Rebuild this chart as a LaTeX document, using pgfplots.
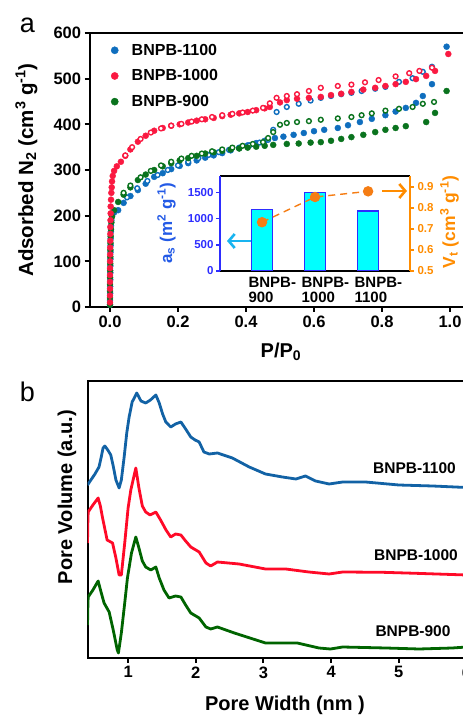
\documentclass[border=0pt]{standalone}
\usepackage{fontspec}
\setmainfont{Liberation Sans}
\usepackage{pgfplots}
\pgfplotsset{compat=1.18}
\usetikzlibrary{arrows.meta}
\definecolor{cblue}{RGB}{15,110,190}
\definecolor{cred}{RGB}{250,25,65}
\definecolor{cgreen}{RGB}{10,115,30}
\definecolor{lblue}{RGB}{18,98,165}
\definecolor{lred}{RGB}{255,10,40}
\definecolor{lgreen}{RGB}{0,100,0}
\definecolor{tblue}{RGB}{45,45,255}
\definecolor{labblue}{RGB}{35,90,230}
\definecolor{iorange}{RGB}{255,140,0}
\definecolor{porange}{RGB}{245,125,20}
\definecolor{arrcyan}{RGB}{25,180,240}
\definecolor{barcyan}{RGB}{0,255,255}
\begin{document}
\begin{tikzpicture}[x=1pt,y=1pt]
\useasboundingbox (0,0) rectangle (463,715);

% ---------------- panel a ----------------
\begin{axis}[
  at={(89.6pt,408pt)}, anchor=south west,
  scale only axis, width=380.8pt, height=274pt,
  xmin=-0.06, xmax=1.06, ymin=0, ymax=600,
  axis line style={line width=2pt},
  xtick={0,0.2,0.4,0.6,0.8,1.0}, ytick={0,100,200,300,400,500,600},
  tick align=outside, xtick pos=bottom, ytick pos=left,
  major tick length=5pt,
  every tick/.style={line width=2pt, black},
  /pgf/number format/assume math mode=true,
  xticklabel style={/pgf/number format/.cd, fixed, fixed zerofill, precision=1},
  tick label style={font=\fontsize{16.5}{16.5}\selectfont\bfseries},
  legend style={draw=none, fill=none, at={(axis description cs:0.055,0.968)}, anchor=north west,
     font=\fontsize{16}{16}\selectfont\bfseries, row sep=9pt, inner sep=0pt},
  legend cell align=left,
  legend image code/.code={\path[draw=none, fill=none] (-4pt,-4pt) rectangle (15pt,4pt); \draw[#1] plot coordinates {(0pt,0pt)};},
]
\addlegendimage{only marks, mark=*, mark size=3.6pt, cblue, mark options={draw=cblue, fill=cblue}}
\addlegendentry{BNPB-1100}
\addlegendimage{only marks, mark=*, mark size=3.6pt, cred, mark options={draw=cred, fill=cred}}
\addlegendentry{BNPB-1000}
\addlegendimage{only marks, mark=*, mark size=3.6pt, cgreen, mark options={draw=cgreen, fill=cgreen}}
\addlegendentry{BNPB-900}

% blue adsorption
\addplot[forget plot, only marks, mark=*, mark size=3pt, cblue, mark options={draw=none, fill=cblue}] coordinates {
(0.000,5)(0.000,15)(0.0005,30)(0.0005,45)(0.0008,60)(0.001,75)(0.001,90)(0.0012,105)(0.0015,120)(0.0018,135)(0.002,150)(0.0025,165)(0.003,178)(0.004,190)(0.006,200)(0.012,207)
(0.024,212)(0.04,228)(0.06,243)(0.082,256)(0.105,270)(0.13,285)(0.155,293)(0.18,302)(0.205,309)(0.23,315)(0.255,321)(0.28,327)(0.305,332)(0.33,337)(0.355,343)(0.38,348)(0.405,354)(0.43,359)(0.455,364)(0.485,370)(0.51,373)(0.54,377)(0.57,381)(0.60,385)(0.63,388)(0.67,392)(0.70,398)(0.735,405)(0.77,412)(0.81,420)(0.84,428)(0.87,436)(0.90,447)(0.92,462)(0.947,488)(0.99,570)};
% blue desorption
\addplot[forget plot, only marks, mark=*, mark size=2.4pt, cblue, mark options={draw=cblue, fill=white, line width=1.4pt}] coordinates {
(0.947,526)(0.92,515)(0.89,501)(0.85,493)(0.81,482)(0.78,478)(0.74,473)(0.71,469)(0.68,466)(0.65,462)(0.62,458)(0.59,452)(0.555,445)(0.52,438)(0.49,427)(0.48,388)(0.465,366)(0.44,360)(0.41,354)(0.38,349)(0.35,344)(0.32,339)(0.29,333)(0.26,326)(0.23,318)(0.20,310)(0.17,300)(0.14,289)(0.11,276)(0.08,260)(0.05,240)};
% green adsorption
\addplot[forget plot, only marks, mark=*, mark size=3pt, cgreen, mark options={draw=none, fill=cgreen}] coordinates {
(0,5)(0,20)(0,35)(0,50)(0.0003,65)(0.0005,80)(0.0008,95)(0.001,110)(0.0012,125)(0.0015,140)(0.002,155)(0.003,170)(0.004,185)(0.006,198)(0.012,212)
(0.024,230)(0.04,246)(0.06,262)(0.082,278)(0.105,290)(0.13,300)(0.155,308)(0.18,315)(0.205,321)(0.23,326)(0.255,331)(0.28,336)(0.305,339)(0.33,342)(0.355,345)(0.38,347)(0.405,349)(0.43,351)(0.455,353)(0.48,355)(0.52,357)(0.555,358)(0.59,360)(0.62,361)(0.65,364)(0.68,368)(0.71,372)(0.745,377)(0.78,383)(0.81,388)(0.84,392)(0.87,396)(0.93,405)(0.956,425)(0.99,473)};
% green desorption
\addplot[forget plot, only marks, mark=*, mark size=2.4pt, cgreen, mark options={draw=cgreen, fill=white, line width=1.4pt}] coordinates {
(0.953,449)(0.92,445)(0.89,438)(0.85,434)(0.81,430)(0.77,424)(0.74,420)(0.71,416)(0.67,413)(0.62,410)(0.585,407)(0.55,405)(0.52,403)(0.50,399)(0.48,383)(0.465,370)(0.45,361)(0.42,357)(0.39,353)(0.36,349)(0.33,345)(0.30,341)(0.27,336)(0.24,331)(0.21,325)(0.18,318)(0.15,310)(0.12,298)(0.09,284)(0.06,266)(0.04,250)};
% red adsorption
\addplot[forget plot, only marks, mark=*, mark size=3pt, cred, mark options={draw=none, fill=cred}] coordinates {
(0,10)(0,25)(0,40)(0,55)(0,70)(0,85)(0.0003,100)(0.0005,115)(0.0005,130)(0.0008,145)(0.001,160)(0.001,175)(0.0015,190)(0.002,205)(0.002,220)(0.003,235)(0.004,250)(0.005,262)(0.006,275)(0.008,287)(0.012,298)(0.02,308)
(0.032,318)(0.045,331)(0.06,345)(0.082,362)(0.105,375)(0.13,386)(0.155,392)(0.18,397)(0.205,400)(0.23,404)(0.255,408)(0.28,411)(0.305,414)(0.33,418)(0.355,421)(0.38,424)(0.405,427)(0.43,431)(0.455,435)(0.47,438)(0.50,448)(0.52,453)(0.55,456)(0.585,458)(0.62,460)(0.65,464)(0.68,467)(0.71,471)(0.745,476)(0.78,480)(0.81,484)(0.84,488)(0.87,493)(0.90,499)(0.93,506)(0.956,517)(0.995,554)};
% red desorption
\addplot[forget plot, only marks, mark=*, mark size=2.4pt, cred, mark options={draw=cred, fill=white, line width=1.4pt}] coordinates {
(0.947,524)(0.91,517)(0.88,512)(0.84,505)(0.79,497)(0.75,492)(0.71,487)(0.67,484)(0.62,480)(0.585,473)(0.55,466)(0.52,462)(0.49,458)(0.47,446)(0.45,436)(0.42,430)(0.39,426)(0.36,423)(0.33,420)(0.30,416)(0.27,411)(0.24,406)(0.21,401)(0.18,397)(0.15,391)(0.12,382)(0.09,368)(0.065,350)(0.045,332)};
\end{axis}

% ---------------- inset: bars ----------------
\begin{axis}[
  at={(220pt,444pt)}, anchor=south west,
  scale only axis, width=190pt, height=95pt,
  xmin=0.2075, xmax=3.79, ymin=0, ymax=1820,
  axis x line*=box, axis y line*=left,
  x axis line style={black, line width=1.3pt},
  y axis line style={tblue, line width=1.3pt},
  ytick={0,500,1000,1500}, xtick={1,2,3},
  xticklabels={{BNPB-\\900},{BNPB-\\1000},{BNPB-\\1100}},
  tick align=outside, major tick length=4pt,
  ytick style={tblue, line width=1.3pt},
  xtick style={draw=none},
  /pgf/number format/assume math mode=true,
  /pgf/number format/1000 sep={},
  yticklabel style={tblue, font=\fontsize{11.5}{11.5}\selectfont\bfseries, xshift=1pt},
  xticklabel style={font=\fontsize{15}{15}\selectfont\bfseries, align=left, anchor=north west, xshift=-17pt, yshift=1pt},
]
\addplot[ybar, bar width=21pt, fill=barcyan, draw=tblue, line width=1.2pt] coordinates {(1,1182) (2,1502) (3,1149)};
\end{axis}
% ---------------- inset: volume ----------------
\begin{axis}[
  at={(220pt,444pt)}, anchor=south west,
  scale only axis, width=190pt, height=95pt,
  xmin=0.2075, xmax=3.79, ymin=0.5, ymax=0.952,
  axis x line=none, axis y line*=right,
  y axis line style={iorange, line width=1.3pt},
  ytick={0.5,0.6,0.7,0.8,0.9},
  tick align=outside, major tick length=4pt,
  ytick style={iorange, line width=1.3pt},
  /pgf/number format/assume math mode=true,
  yticklabel style={iorange, font=\fontsize{11.5}{11.5}\selectfont\bfseries, /pgf/number format/.cd, fixed, fixed zerofill, precision=1},
]
\addplot[porange, line width=1.4pt, dash pattern=on 7pt off 5pt, mark=*, mark size=4.5pt, mark options={solid, fill=porange, draw=porange}] coordinates {(1,0.732) (2,0.852) (3,0.879)};
\end{axis}
\draw[arrcyan, line width=2.6pt, -{Straight Barb[length=6pt,width=14pt]}] (251,474) -- (227,474);
\draw[iorange, line width=2.6pt, -{Straight Barb[length=6pt,width=14pt]}] (382,524) -- (407,524);
\node[labblue, rotate=90, anchor=base, font=\fontsize{17}{17}\selectfont\bfseries] at (172,492) {a\textsubscript{s} (m\textsuperscript{2} g\textsuperscript{-1})};
\node[iorange, rotate=90, anchor=base, font=\fontsize{17.5}{17.5}\selectfont\bfseries] at (455,493) {V\textsubscript{t} (cm\textsuperscript{3} g\textsuperscript{-1})};

% labels panel a
\node[anchor=base, font=\fontsize{27}{27}\selectfont] at (27.5,682) {a};
\node[rotate=90, anchor=base, font=\fontsize{20.5}{20.5}\selectfont\bfseries] at (33,545) {Adsorbed N\textsubscript{2} (cm\textsuperscript{3} g\textsuperscript{-1})};
\node[anchor=base, font=\fontsize{20}{20}\selectfont\bfseries] at (281,357.5) {P/P\textsubscript{0}};

% ---------------- panel b ----------------
\begin{axis}[
  at={(87.5pt,57pt)}, anchor=south west,
  scale only axis, width=379pt, height=277pt,
  xmin=0.4, xmax=6, ymin=0, ymax=277,
  axis line style={line width=2pt},
  xtick={1,2,3,4,5,6}, ytick=\empty,
  tick align=outside, xtick pos=bottom,
  major tick length=5pt,
  every tick/.style={line width=2pt, black},
  /pgf/number format/assume math mode=true,
  tick label style={font=\fontsize{16.5}{16.5}\selectfont\bfseries},
]
\addplot[lblue, line width=2.8pt, line join=round] coordinates {
(0.40,173)(0.45,178)(0.51,184)(0.57,191)(0.60,200)(0.63,210)(0.656,212)(0.70,208)(0.744,203)(0.78,192)(0.82,178)(0.867,170)(0.90,178)(0.94,200)(0.98,225)(1.015,241)(1.06,256)(1.128,265)(1.19,257)(1.26,255)(1.33,258)(1.41,263)(1.46,255)(1.51,244)(1.557,236)(1.63,231)(1.70,234)(1.78,236)(1.85,229)(1.926,221)(1.99,218)(2.05,216)(2.12,206)(2.2,204)(2.32,205)(2.54,200)(2.79,191)(3.03,184)(3.28,181)(3.48,179)(3.62,182)(3.77,177)(3.97,174)(4.17,176)(4.51,176)(5.0,173)(5.5,172)(6.0,170.5)};
\addplot[lred, line width=2.8pt, line join=round] coordinates {
(0.40,115)(0.405,135)(0.41,146)(0.48,153)(0.557,160)(0.59,152)(0.62,141)(0.69,118)(0.77,115)(0.82,100)(0.867,83)(0.90,83)(0.95,115)(1.00,150)(1.04,168)(1.114,190)(1.16,170)(1.21,152)(1.26,146)(1.325,143)(1.41,146)(1.48,138)(1.56,128)(1.63,121)(1.70,124)(1.78,123)(1.85,117)(1.926,111)(2.05,106)(2.15,95)(2.22,92)(2.32,96)(2.64,94)(3.03,89)(3.33,89)(3.67,86)(3.97,84)(4.17,86)(4.76,85.7)(5.25,84.7)(6.0,83)};
\addplot[lgreen, line width=2.8pt, line join=round] coordinates {
(0.40,33)(0.405,50)(0.41,61)(0.48,68)(0.557,77)(0.60,66)(0.645,55)(0.72,46)(0.78,28)(0.84,8)(0.857,5)(0.90,25)(0.95,55)(0.99,80)(1.05,105)(1.114,121)(1.16,110)(1.21,97)(1.26,91)(1.335,88)(1.41,91)(1.46,80)(1.53,68)(1.605,60)(1.70,62)(1.78,61)(1.85,53)(1.926,45)(2.05,40)(2.15,31)(2.22,29)(2.32,31)(2.57,25)(3.03,15)(3.5,15)(3.82,10)(3.99,9)(4.17,11)(4.81,10)(5.3,9)(5.79,10)(6.0,11)};
\end{axis}
\node[font=\fontsize{15.5}{15.5}\selectfont\bfseries] at (414.5,247) {BNPB-1100};
\node[font=\fontsize{15.5}{15.5}\selectfont\bfseries] at (416,160) {BNPB-1000};
\node[font=\fontsize{15.5}{15.5}\selectfont\bfseries] at (413,84) {BNPB-900};
\node[anchor=base, font=\fontsize{27}{27}\selectfont] at (27.5,313) {b};
\node[rotate=90, anchor=base, font=\fontsize{20}{20}\selectfont\bfseries] at (72,218) {Pore Volume (a.u.)};
\node[anchor=base, font=\fontsize{20}{20}\selectfont\bfseries] at (285,5) {Pore Width (nm )};
\end{tikzpicture}
\end{document}
